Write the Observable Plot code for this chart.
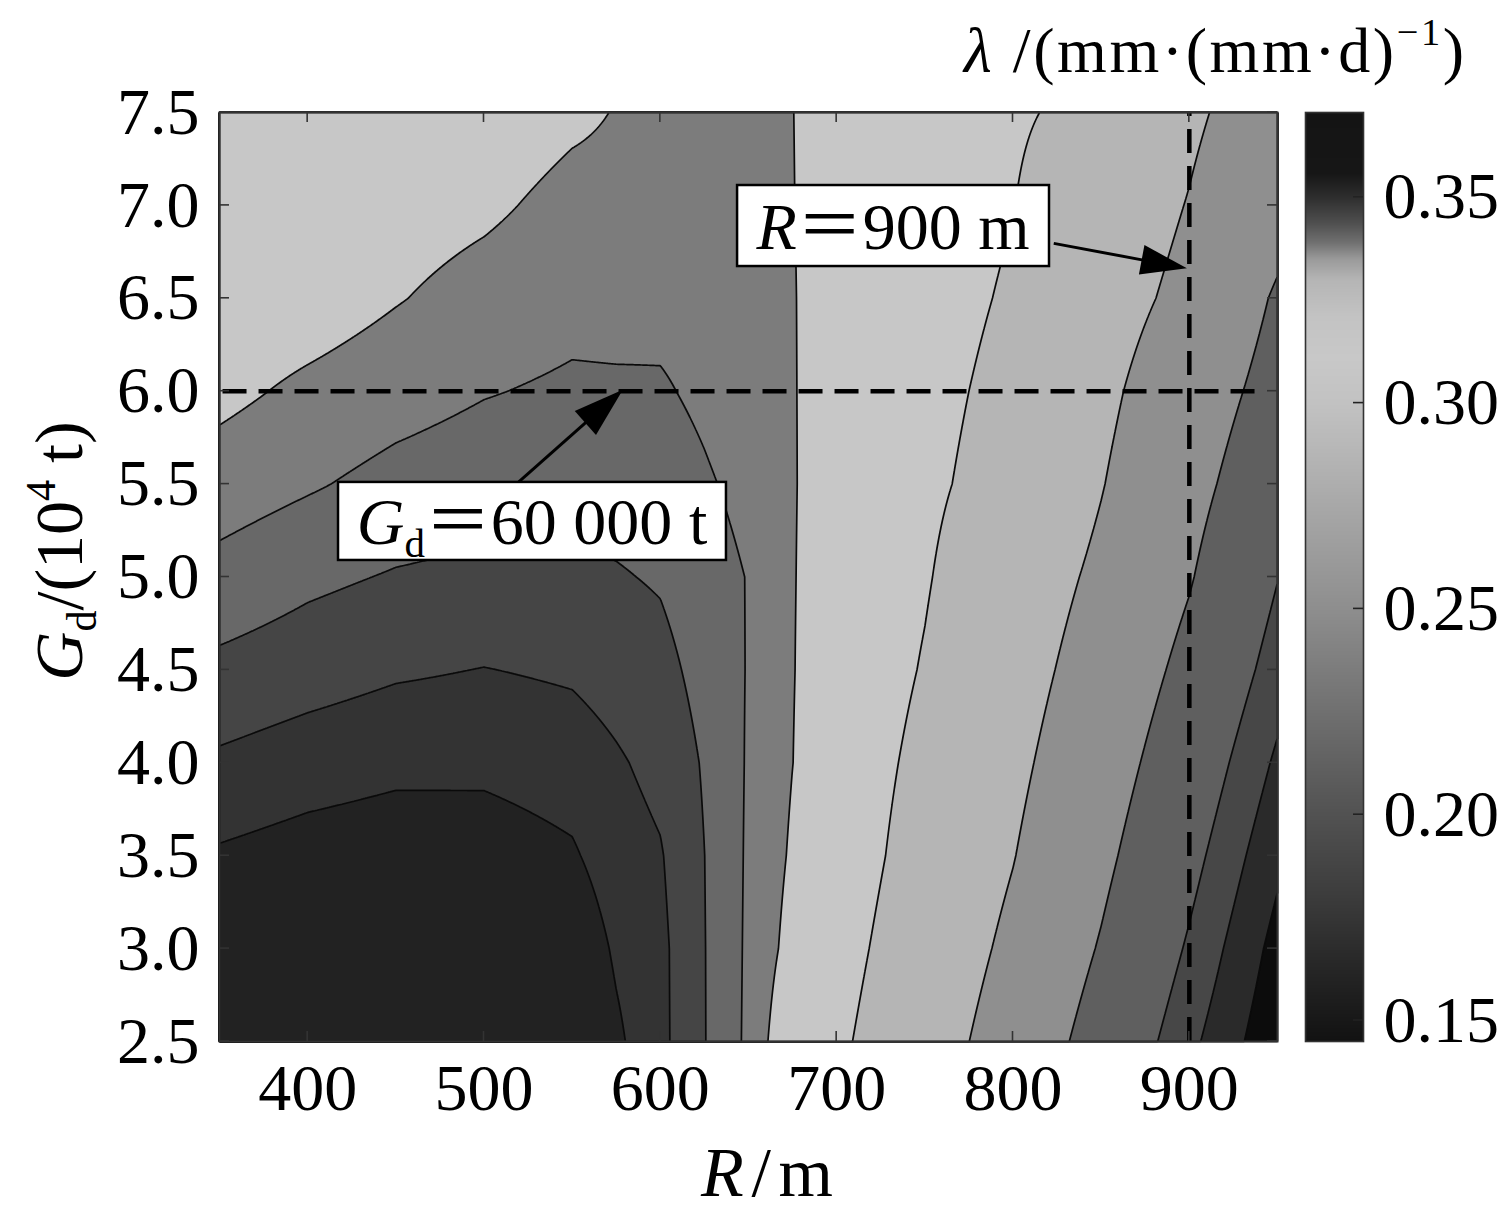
<!DOCTYPE html>
<html><head><meta charset="utf-8">
<script src="https://cdn.jsdelivr.net/npm/d3@7"></script>
<script src="https://cdn.jsdelivr.net/npm/@observablehq/plot@0.6"></script>
<style>
html,body{margin:0;padding:0;background:#fff;overflow:hidden;}
#chart{position:relative;width:1505px;height:1230px;overflow:hidden;background:#fff;}
#chart svg{position:absolute;top:0;}
</style></head>
<body><div id="chart"></div>
<script>
// ---- data ----
const R_NODES = [350, 400, 450, 500, 550, 575, 600, 625, 650, 675, 700, 750, 800, 850, 900, 950];
const GD_NODES = [2.5, 3.0, 3.5, 4.0, 4.5, 5.0, 5.5, 6.0, 6.5, 7.0, 7.5];
// lambda (mm/(mm·d)) at each (Gd row, R column)
const LAMBDA = [
  [0.3650, 0.3663, 0.3675, 0.3688, 0.3650, 0.3524, 0.3408, 0.3255, 0.3100, 0.2873, 0.2839, 0.2622, 0.2380, 0.2098, 0.1789, 0.1486],
  [0.3600, 0.3625, 0.3638, 0.3650, 0.3600, 0.3481, 0.3406, 0.3254, 0.3104, 0.2951, 0.2877, 0.2668, 0.2447, 0.2182, 0.1877, 0.1548],
  [0.3516, 0.3554, 0.3576, 0.3568, 0.3516, 0.3433, 0.3385, 0.3251, 0.3108, 0.2982, 0.2912, 0.2710, 0.2508, 0.2256, 0.1961, 0.1633],
  [0.3396, 0.3438, 0.3468, 0.3471, 0.3438, 0.3390, 0.3339, 0.3238, 0.3113, 0.3001, 0.2919, 0.2749, 0.2555, 0.2323, 0.2046, 0.1723],
  [0.3280, 0.3321, 0.3359, 0.3378, 0.3358, 0.3324, 0.3289, 0.3208, 0.3118, 0.3004, 0.2933, 0.2787, 0.2601, 0.2389, 0.2132, 0.1822],
  [0.3166, 0.3223, 0.3260, 0.3279, 0.3275, 0.3260, 0.3238, 0.3178, 0.3120, 0.3005, 0.2942, 0.2815, 0.2643, 0.2453, 0.2217, 0.1905],
  [0.3061, 0.3111, 0.3164, 0.3195, 0.3206, 0.3201, 0.3189, 0.3140, 0.3090, 0.3006, 0.2949, 0.2835, 0.2722, 0.2510, 0.2281, 0.2021],
  [0.2965, 0.3028, 0.3076, 0.3118, 0.3144, 0.3143, 0.3139, 0.3100, 0.3052, 0.3005, 0.2954, 0.2851, 0.2749, 0.2553, 0.2344, 0.2108],
  [0.2900, 0.2930, 0.2992, 0.3049, 0.3088, 0.3081, 0.3088, 0.3075, 0.3040, 0.3004, 0.2959, 0.2869, 0.2779, 0.2600, 0.2439, 0.2172],
  [0.2880, 0.2900, 0.2940, 0.2975, 0.3040, 0.3038, 0.3050, 0.3050, 0.3025, 0.3002, 0.2963, 0.2883, 0.2804, 0.2649, 0.2490, 0.2290],
  [0.2860, 0.2880, 0.2900, 0.2920, 0.2975, 0.3005, 0.3019, 0.3025, 0.3015, 0.3001, 0.2965, 0.2894, 0.2822, 0.2749, 0.2539, 0.2369]
];
// contour levels and the grey of each filled band
const THRESHOLDS = [0.14, 0.16, 0.175, 0.19, 0.22, 0.25, 0.28, 0.30, 0.3125, 0.325, 0.3375, 0.35];
const BAND_COLORS = ["#0c0c0c", "#2a2a2a", "#474747", "#5f5f5f", "#8f8f8f", "#b5b5b5", "#c7c7c7", "#7c7c7c", "#686868", "#454545", "#333333", "#222222"];
const X_TICKS = [400, 500, 600, 700, 800, 900];
const Y_TICKS = [2.5, 3.0, 3.5, 4.0, 4.5, 5.0, 5.5, 6.0, 6.5, 7.0, 7.5];
// colour bar
const CB_DOMAIN = [0.1449, 0.3706];
const CB_STOPS = [0.1449, 0.1626, 0.18, 0.20, 0.225, 0.25, 0.277, 0.29, 0.30, 0.311, 0.321, 0.330, 0.335, 0.339, 0.3436, 0.35, 0.356, 0.3706];
const CB_GRAYS = ["#121212", "#262626", "#3c3c3c", "#525252", "#707070", "#8e8e8e", "#aaaaaa", "#b8b8b8", "#c2c2c2", "#c8c8c8", "#c3c3c3", "#b5b5b5", "#9a9a9a", "#707070", "#505050", "#2e2e2e", "#161616", "#141414"];
const CB_TICKS = [0.15, 0.20, 0.25, 0.30, 0.35];
// reference lines and annotations (data coordinates)
const REF_GD = 6.0, REF_R = 900;
const REF_GD_SPAN = [352, 942];
const ANNOTATIONS = [
  {parts: [{t: "R", italic: true}, {t: "＝900 m"}], r1: 643.8, r2: 820.7, g1: 6.671, g2: 7.107,
   from: [823.4, 6.793], to: [898.9, 6.659], head: 46, headWidth: 30},
  {parts: [{t: "G", italic: true}, {t: "d", scale: 0.62, shift: 0.2}, {t: "＝60 000 t"}], r1: 417.5, r2: 637.5, g1: 5.089, g2: 5.509,
   from: [520.0, 5.509], to: [579.0, 6.005], head: 50, headWidth: 32}
];

const FONT = "'Liberation Serif','Times New Roman','Noto Sans CJK SC',serif";

function lambdaAt(r, g) {
  const find = (arr, v) => {
    let i = 0;
    while (i < arr.length - 2 && v > arr[i + 1]) i++;
    return i;
  };
  const i = find(R_NODES, r), j = find(GD_NODES, g);
  const tx = Math.max(0, Math.min(1, (r - R_NODES[i]) / (R_NODES[i + 1] - R_NODES[i])));
  const ty = Math.max(0, Math.min(1, (g - GD_NODES[j]) / (GD_NODES[j + 1] - GD_NODES[j])));
  const a = LAMBDA[j][i], b = LAMBDA[j][i + 1], c = LAMBDA[j + 1][i], d = LAMBDA[j + 1][i + 1];
  return (a * (1 - tx) + b * tx) * (1 - ty) + (c * (1 - tx) + d * tx) * ty;
}

function richText(parent, x, y, parts, size, anchor = "middle", rotate = 0, textLength = null) {
  const t = parent.append("text")
    .attr("x", x).attr("y", y)
    .attr("font-size", size)
    .attr("font-family", FONT)
    .attr("text-anchor", anchor)
    .attr("fill", "#000")
    .attr("style", "white-space:pre");
  if (textLength) t.attr("textLength", textLength).attr("lengthAdjust", "spacing");
  if (rotate) t.attr("transform", `rotate(${rotate} ${x} ${y})`);
  let shift = 0;
  for (const p of parts) {
    const s = t.append("tspan").text(p.t);
    const target = (p.shift || 0) * size;
    if (target !== shift) s.attr("dy", target - shift);
    shift = target;
    if (p.scale) s.attr("font-size", size * p.scale);
    if (p.italic) s.attr("font-style", "italic");
  }
  return t;
}

// inward tick marks on all four sides
const inwardTicks = (index, scales, values, dims) => {
  const g = d3.create("svg:g").attr("stroke", "#333").attr("stroke-width", 1.6);
  const L = 10;
  const top = dims.marginTop, bottom = dims.height - dims.marginBottom;
  const left = dims.marginLeft, right = dims.width - dims.marginRight;
  for (const t of X_TICKS) {
    const px = scales.x(t);
    g.append("line").attr("x1", px).attr("x2", px).attr("y1", bottom).attr("y2", bottom - L);
    g.append("line").attr("x1", px).attr("x2", px).attr("y1", top).attr("y2", top + L);
  }
  for (const t of Y_TICKS) {
    const py = scales.y(t);
    g.append("line").attr("y1", py).attr("y2", py).attr("x1", left).attr("x2", left + L);
    g.append("line").attr("y1", py).attr("y2", py).attr("x1", right).attr("x2", right - L);
  }
  return g.node();
};

const arrows = (index, scales) => {
  const g = d3.create("svg:g");
  for (const a of ANNOTATIONS) {
    const x0 = scales.x(a.from[0]), y0 = scales.y(a.from[1]);
    const x1 = scales.x(a.to[0]), y1 = scales.y(a.to[1]);
    const dx = x1 - x0, dy = y1 - y0, len = Math.hypot(dx, dy);
    const ux = dx / len, uy = dy / len, hw = a.headWidth / 2;
    const bx = x1 - ux * a.head, by = y1 - uy * a.head;
    g.append("line").attr("x1", x0).attr("y1", y0).attr("x2", bx + ux * 3).attr("y2", by + uy * 3)
      .attr("stroke", "#000").attr("stroke-width", 3);
    g.append("path").attr("d", `M${x1},${y1}L${bx - uy * hw},${by + ux * hw}L${bx + uy * hw},${by - ux * hw}Z`)
      .attr("fill", "#000");
  }
  return g.node();
};

const boxes = (index, scales) => {
  const g = d3.create("svg:g");
  for (const a of ANNOTATIONS) {
    const xa = scales.x(a.r1), xb = scales.x(a.r2), ya = scales.y(a.g2), yb = scales.y(a.g1);
    g.append("rect").attr("x", xa).attr("y", ya).attr("width", xb - xa).attr("height", yb - ya)
      .attr("fill", "#fff").attr("stroke", "#000").attr("stroke-width", 2.5);
    richText(g, (xa + xb) / 2, (ya + yb) / 2 + 23, a.parts, 66);
  }
  return g.node();
};

const labels = (index, scales, values, dims) => {
  const g = d3.create("svg:g");
  richText(g, 767, 1196, [{t: "R", italic: true}, {t: "/m"}], 70, "middle", 0, 132);
  richText(g, 82, 551, [{t: "G", italic: true}, {t: "d", scale: 0.62, shift: 0.2}, {t: "/(10"}, {t: "4", scale: 0.62, shift: -0.4}, {t: " t)"}], 68, "middle", -90);
  richText(g, 964, 72, [{t: "λ", italic: true}, {t: " /(mm·(mm·d)"}, {t: "−1", scale: 0.6, shift: -0.42}, {t: ")"}], 64, "start", 0, 500);
  return g.node();
};

const main = Plot.plot({
  width: 1505, height: 1230,
  marginLeft: 219, marginRight: 228, marginTop: 112, marginBottom: 189,
  x: {domain: [350, 950], label: null},
  y: {domain: [2.5, 7.5], label: null},
  color: {type: "threshold", domain: THRESHOLDS.slice(1), range: BAND_COLORS},
  style: {fontFamily: FONT, background: "#fff", overflow: "visible", color: "#000"},
  marks: [
    Plot.frame({fill: BAND_COLORS[0], stroke: null}),
    Plot.contour({x1: 350, x2: 950, y1: 2.5, y2: 7.5, fill: lambdaAt, thresholds: THRESHOLDS,
      stroke: "#0a0a0a", strokeWidth: 1.7, pixelSize: 1}),
    Plot.ruleY([REF_GD], {x1: REF_GD_SPAN[0], x2: REF_GD_SPAN[1], stroke: "#000", strokeWidth: 4.5, strokeDasharray: "24,12"}),
    Plot.ruleX([REF_R], {y1: 2.5, y2: 7.5, stroke: "#000", strokeWidth: 4.5, strokeDasharray: "24,13"}),
    Plot.frame({stroke: "#333", strokeWidth: 2}),
    inwardTicks,
    arrows,
    boxes,
    Plot.axisX({ticks: X_TICKS, anchor: "bottom", tickSize: 0, tickPadding: 22, fontSize: 66, label: null, tickFormat: d => String(d)}),
    Plot.axisY({ticks: Y_TICKS, anchor: "left", tickSize: 0, tickPadding: 20, fontSize: 66, label: null, tickFormat: d3.format(".1f")}),
    labels
  ]
});

const cbTicks = (index, scales, values, dims) => {
  const g = d3.create("svg:g").attr("stroke", "#222").attr("stroke-width", 1.6);
  const right = dims.width - dims.marginRight;
  for (const t of CB_TICKS) {
    const py = scales.y(t);
    g.append("line").attr("x1", right).attr("x2", right - 10).attr("y1", py).attr("y2", py);
  }
  return g.node();
};

const colorbar = Plot.plot({
  width: 215, height: 1230,
  marginLeft: 10, marginRight: 147, marginTop: 112, marginBottom: 189,
  x: {domain: [0, 1], axis: null},
  y: {domain: CB_DOMAIN, label: null},
  color: {type: "linear", domain: CB_STOPS, range: CB_GRAYS},
  style: {fontFamily: FONT, background: "transparent", overflow: "visible", color: "#000"},
  marks: [
    Plot.raster({x1: 0, x2: 1, y1: CB_DOMAIN[0], y2: CB_DOMAIN[1], fill: (x, y) => y, pixelSize: 1}),
    Plot.frame({stroke: "#333", strokeWidth: 1.6}),
    cbTicks,
    Plot.axisY({ticks: CB_TICKS, anchor: "right", tickSize: 0, tickPadding: 20, fontSize: 66, label: null, tickFormat: d3.format(".2f")})
  ]
});

const chart = document.getElementById("chart");
main.style.left = "0px";
colorbar.style.left = "1295px";
colorbar.style.maxWidth = "none";
main.style.maxWidth = "none";
chart.appendChild(main);
chart.appendChild(colorbar);
</script>
</body></html>
